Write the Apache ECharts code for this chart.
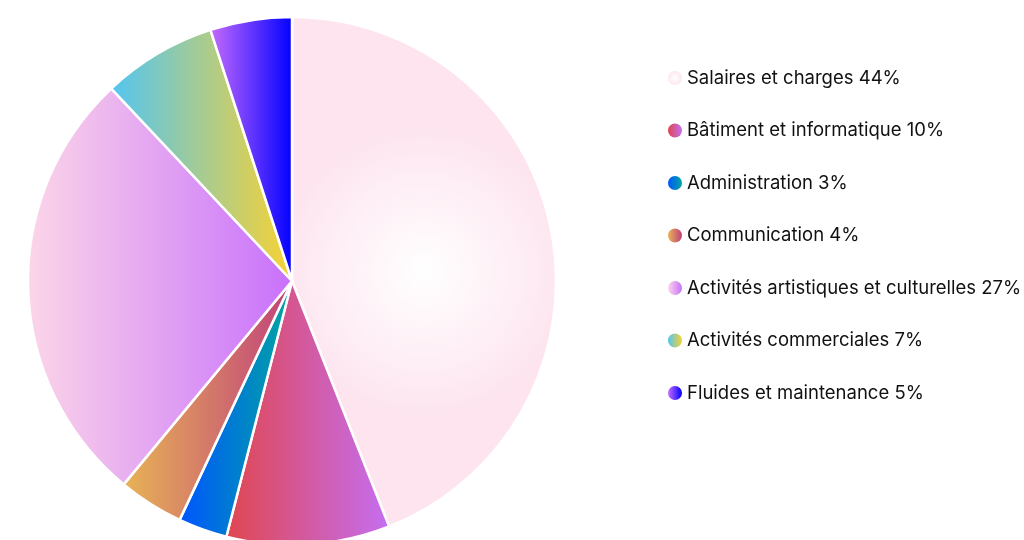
<!DOCTYPE html>
<html><head><meta charset="utf-8">
<script src="https://cdn.jsdelivr.net/npm/echarts@6/dist/echarts.min.js"></script>
<style>html,body{margin:0;padding:0;background:#fff}#c{width:1024px;height:540px}</style>
</head><body><div id="c"></div>
<script>
const categories = ["Salaires et charges","Bâtiment et informatique","Administration","Communication","Activités artistiques et culturelles","Activités commerciales","Fluides et maintenance"];
const values = [44,10,3,4,27,7,5];
const gradientStops = [
  ["#ffffff","#fde4ef"],
  ["#e0464f","#c56ef2"],
  ["#0055ff","#00a6a0"],
  ["#e8b455","#c0407c"],
  ["#fcd6e8","#c870fc"],
  ["#52c5f2","#fad232"],
  ["#c76cfc","#0000ff"]
];
function makeColor(i){
  const s = gradientStops[i];
  if(i===0){
    return new echarts.graphic.RadialGradient(0.5,0.5,0.55,[{offset:0,color:s[0]},{offset:1,color:s[1]}]);
  }
  return new echarts.graphic.LinearGradient(0,0,1,0,[{offset:0,color:s[0]},{offset:1,color:s[1]}]);
}
const data = categories.map((n,i)=>({name:n,value:values[i],itemStyle:{color:makeColor(i)}}));
const chart = echarts.init(document.getElementById('c'));
chart.setOption({
  animation:false,
  legend:{
    orient:'vertical',
    left:668, top:68,
    padding:0,
    icon:'circle',
    itemWidth:14, itemHeight:14,
    itemGap:32.5,
    itemStyle:{borderWidth:0},
    textStyle:{fontFamily:'Inter',fontSize:18.5,color:'#111',lineHeight:20},
    formatter:function(name){const i=categories.indexOf(name);return name+' '+values[i]+'%';}
  },
  series:[{
    type:'pie',
    center:[292,281],
    radius:[0,264],
    startAngle:90,
    clockwise:true,
    label:{show:false},
    labelLine:{show:false},
    itemStyle:{borderColor:'#fff',borderWidth:2.5},
    emphasis:{disabled:true},
    data:data
  }]
});
</script></body></html>
